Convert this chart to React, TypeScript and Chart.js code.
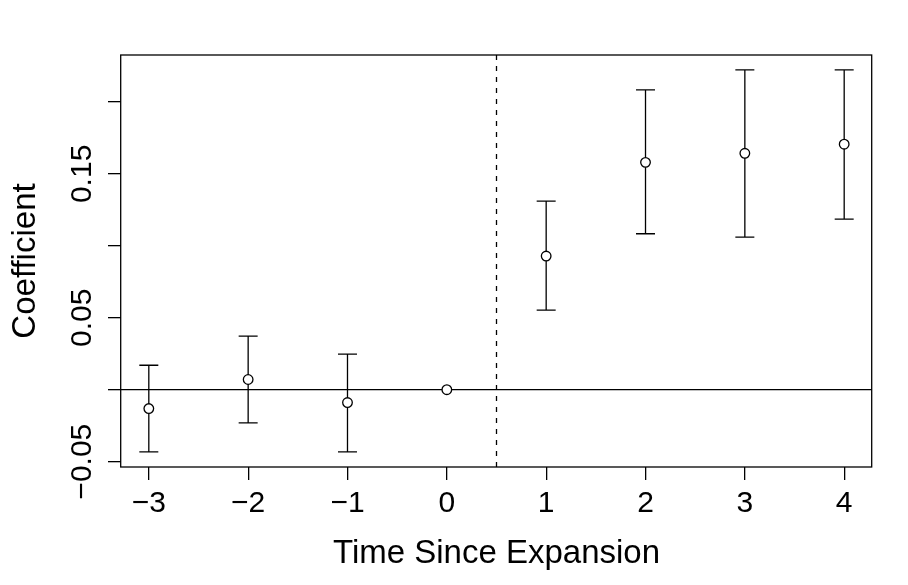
import React, { useEffect, useRef } from "react";
import { Chart, registerables } from "chart.js";

Chart.register(...registerables);

// ---- data ----
const periods = [-3, -2, -1, 0, 1, 2, 3, 4];
const coefficients = [-0.0131, 0.0071, -0.0089, 0, 0.0929, 0.158, 0.1643, 0.1706];
const lowerCI = [-0.0432, -0.0231, -0.0432, null, 0.0553, 0.1084, 0.1061, 0.1185];
const upperCI = [0.017, 0.0372, 0.0247, null, 0.1311, 0.2083, 0.2222, 0.2222];

const xTicks = [-3, -2, -1, 0, 1, 2, 3, 4];
const yTicks = [-0.05, 0, 0.05, 0.1, 0.15, 0.2];
const yTickLabels = ["\u22120.05", "", "0.05", "", "0.15", ""];

const xTitle = "Time Since Expansion";
const yTitle = "Coefficient";
const referenceY = 0;
const eventX = 0.5;

const FONT = "'Liberation Sans', Arial, Helvetica, sans-serif";

export default function App() {
  const canvasRef = useRef<HTMLCanvasElement | null>(null);

  useEffect(() => {
    const canvas = canvasRef.current;
    if (!canvas) return;

    const overlay = {
      id: "rBaseOverlay",
      beforeDatasetsDraw(chart: any) {
        const { ctx, chartArea } = chart;
        const xs = chart.scales.x;
        const ys = chart.scales.y;
        const { left, right, top, bottom } = chartArea;
        ctx.save();
        ctx.strokeStyle = "#000";
        ctx.lineWidth = 1.3;

        // h = 0 reference line
        const y0 = ys.getPixelForValue(referenceY);
        ctx.beginPath();
        ctx.moveTo(left, y0);
        ctx.lineTo(right, y0);
        ctx.stroke();

        // dashed vertical line
        const xv = xs.getPixelForValue(eventX);
        ctx.setLineDash([5, 6]);
        ctx.beginPath();
        ctx.moveTo(xv, top);
        ctx.lineTo(xv, bottom);
        ctx.stroke();
        ctx.setLineDash([]);

        // error bars
        const cap = 9.5;
        for (let i = 0; i < periods.length; i++) {
          const lo = lowerCI[i];
          const hi = upperCI[i];
          if (lo == null || hi == null) continue;
          const px = xs.getPixelForValue(periods[i]);
          const pl = ys.getPixelForValue(lo);
          const ph = ys.getPixelForValue(hi);
          ctx.beginPath();
          ctx.moveTo(px, pl);
          ctx.lineTo(px, ph);
          ctx.moveTo(px - cap, pl);
          ctx.lineTo(px + cap, pl);
          ctx.moveTo(px - cap, ph);
          ctx.lineTo(px + cap, ph);
          ctx.stroke();
        }
        ctx.restore();
      },
      afterDraw(chart: any) {
        const { ctx, chartArea } = chart;
        const ys = chart.scales.y;
        ctx.save();
        // plot box
        ctx.strokeStyle = "#000";
        ctx.lineWidth = 1.3;
        ctx.strokeRect(
          chartArea.left - 0.3,
          chartArea.top,
          chartArea.right - chartArea.left,
          chartArea.bottom - chartArea.top
        );
        // rotated y tick labels (R style, parallel to axis)
        ctx.fillStyle = "#000";
        ctx.font = `30px ${FONT}`;
        ctx.textAlign = "center";
        ctx.textBaseline = "alphabetic";
        const bx = ys.right - 13 - 17.5;
        ys.ticks.forEach((t: any) => {
          const label = yTickLabels[yTicks.indexOf(t.value)] ?? "";
          if (!label) return;
          const py = ys.getPixelForValue(t.value);
          ctx.save();
          ctx.translate(bx, py);
          ctx.rotate(-Math.PI / 2);
          ctx.fillText(label, 0, 0);
          ctx.restore();
        });
        ctx.restore();
      },
    };

    const chart = new Chart(canvas, {
      type: "scatter",
      data: {
        datasets: [
          {
            data: periods.map((p, i) => ({ x: p, y: coefficients[i] })),
            showLine: false,
            pointStyle: "circle",
            pointRadius: 4.8,
            pointHoverRadius: 4.8,
            pointBorderWidth: 1.3,
            pointBorderColor: "#000",
            pointBackgroundColor: "#fff",
          },
        ],
      },
      options: {
        animation: false,
        responsive: false,
        devicePixelRatio: 1,
        layout: { padding: { top: 55, right: 36, left: 0, bottom: 0 } },
        plugins: {
          legend: { display: false },
          tooltip: { enabled: false },
        },
        events: [],
        scales: {
          x: {
            type: "linear",
            min: -3.28,
            max: 4.28,
            afterBuildTicks: (s: any) => {
              s.ticks = xTicks.map((v) => ({ value: v }));
            },
            afterFit: (s: any) => {
              s.height = 118;
            },
            border: { display: false },
            grid: {
              drawOnChartArea: false,
              drawTicks: true,
              tickLength: 13,
              color: "#000",
              lineWidth: 1.3,
            },
            ticks: {
              autoSkip: false,
              maxRotation: 0,
              minRotation: 0,
              padding: 6,
              color: "#000",
              font: { family: FONT, size: 30 },
              callback: (v: any) =>
                Number(v) < 0 ? "\u2212" + Math.abs(Number(v)) : String(v),
            },
            title: {
              display: true,
              text: xTitle,
              color: "#000",
              font: { family: FONT, size: 33 },
              padding: { top: 0, bottom: 11 },
            },
          },
          y: {
            type: "linear",
            min: -0.0537,
            max: 0.2326,
            afterBuildTicks: (s: any) => {
              s.ticks = yTicks.map((v) => ({ value: v }));
            },
            afterFit: (s: any) => {
              s.width = 121;
            },
            border: { display: false },
            grid: {
              drawOnChartArea: false,
              drawTicks: true,
              tickLength: 13,
              color: "#000",
              lineWidth: 1.3,
            },
            ticks: {
              display: false,
              autoSkip: false,
            },
            title: {
              display: true,
              text: yTitle,
              color: "#000",
              font: { family: FONT, size: 33 },
              padding: { top: 6, bottom: 0 },
            },
          },
        },
      },
      plugins: [overlay],
    });

    return () => chart.destroy();
  }, []);

  return (
    <div style={{ position: "absolute", left: 0, top: 0, width: 908, height: 585, background: "#fff" }}>
      <canvas ref={canvasRef} width={908} height={585} style={{ display: "block" }} />
    </div>
  );
}
